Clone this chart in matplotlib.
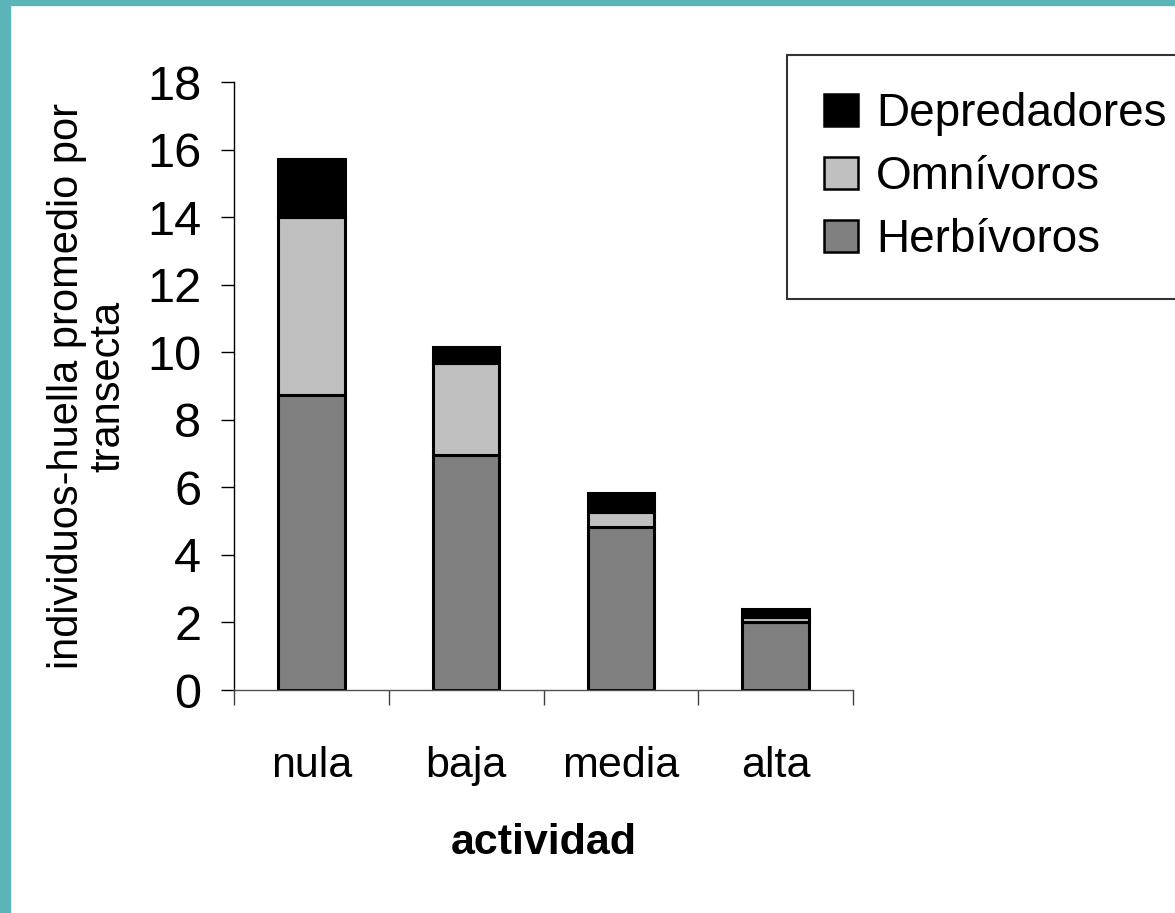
import numpy as np
import matplotlib
matplotlib.use("Agg")
import matplotlib.pyplot as plt
from matplotlib.patches import Rectangle, Patch

plt.rcParams["font.family"] = ["Liberation Sans", "DejaVu Sans"]

# DATOS
categorias = ["nula", "baja", "media", "alta"]
herbivoros = [8.72, 6.97, 4.84, 2.02]
omnivoros = [5.28, 2.70, 0.42, 0.13]
depredadores = [1.72, 0.49, 0.58, 0.25]

colores = {"Herbívoros": "#808080", "Omnívoros": "#C0C0C0", "Depredadores": "#000000"}

# FIGURA
fig = plt.figure(figsize=(11.75, 9.13), dpi=100)
ax = fig.add_axes([234 / 1175, 1 - 690 / 913, 619 / 1175, 608 / 913])

x = np.arange(len(categorias))
ancho = 0.43
herb = np.array(herbivoros)
omni = np.array(omnivoros)
dep = np.array(depredadores)

kw = dict(width=ancho, edgecolor="black", linewidth=2.2)
ax.bar(x, herb, color=colores["Herbívoros"], **kw)
ax.bar(x, omni, bottom=herb, color=colores["Omnívoros"], **kw)
ax.bar(x, dep, bottom=herb + omni, color=colores["Depredadores"], **kw)

ax.set_xlim(-0.5, len(categorias) - 0.5)
ax.set_ylim(0, 18)
ax.set_yticks(np.arange(0, 19, 2))
ax.tick_params(axis="y", labelsize=35, length=9.5, width=1, pad=14, direction="out")

# etiquetas centradas, marcas entre categorías
ax.set_xticks(x)
ax.set_xticklabels(categorias)
ax.set_xticks(np.arange(-0.5, len(categorias), 1), minor=True)
ax.tick_params(axis="x", which="major", length=0, labelsize=31, pad=40)
ax.tick_params(axis="x", which="minor", length=11, width=1, color="#404040")

for lado in ["top", "right"]:
    ax.spines[lado].set_visible(False)
ax.spines["bottom"].set_color("#505050")
ax.spines["left"].set_linewidth(1)
ax.spines["bottom"].set_linewidth(1)

ax.set_xlabel("actividad", fontsize=31, fontweight="bold", labelpad=27)
ax.set_ylabel("individuos-huella promedio por\ntransecta", fontsize=30,
              linespacing=1.05, va="center", ha="center")
ax.yaxis.set_label_coords((88 - 234) / 619, 0.5)

# LEYENDA
manejadores = [Patch(facecolor=colores[k], edgecolor="black", linewidth=1.8, label=k)
               for k in ["Depredadores", "Omnívoros", "Herbívoros"]]
leg = fig.legend(handles=manejadores, loc="upper left",
                 bbox_to_anchor=(787 / 1175, 1 - 55 / 913), fontsize=33,
                 frameon=True, fancybox=False, shadow=False, borderpad=0.8,
                 handlelength=0.75, handleheight=0.7, handletextpad=0.4,
                 labelspacing=0.42, borderaxespad=0)
leg.get_frame().set_edgecolor("black")
leg.get_frame().set_linewidth(1.5)

# MARCO TURQUESA
fig.patches.append(Rectangle((0, 0), 10 / 1175, 1, transform=fig.transFigure,
                             color="#5BB5B8", zorder=-1))
fig.patches.append(Rectangle((0, 1 - 5 / 913), 1, 5 / 913, transform=fig.transFigure,
                             color="#5BB5B8", zorder=-1))

fig.savefig("out.png", dpi=100)
